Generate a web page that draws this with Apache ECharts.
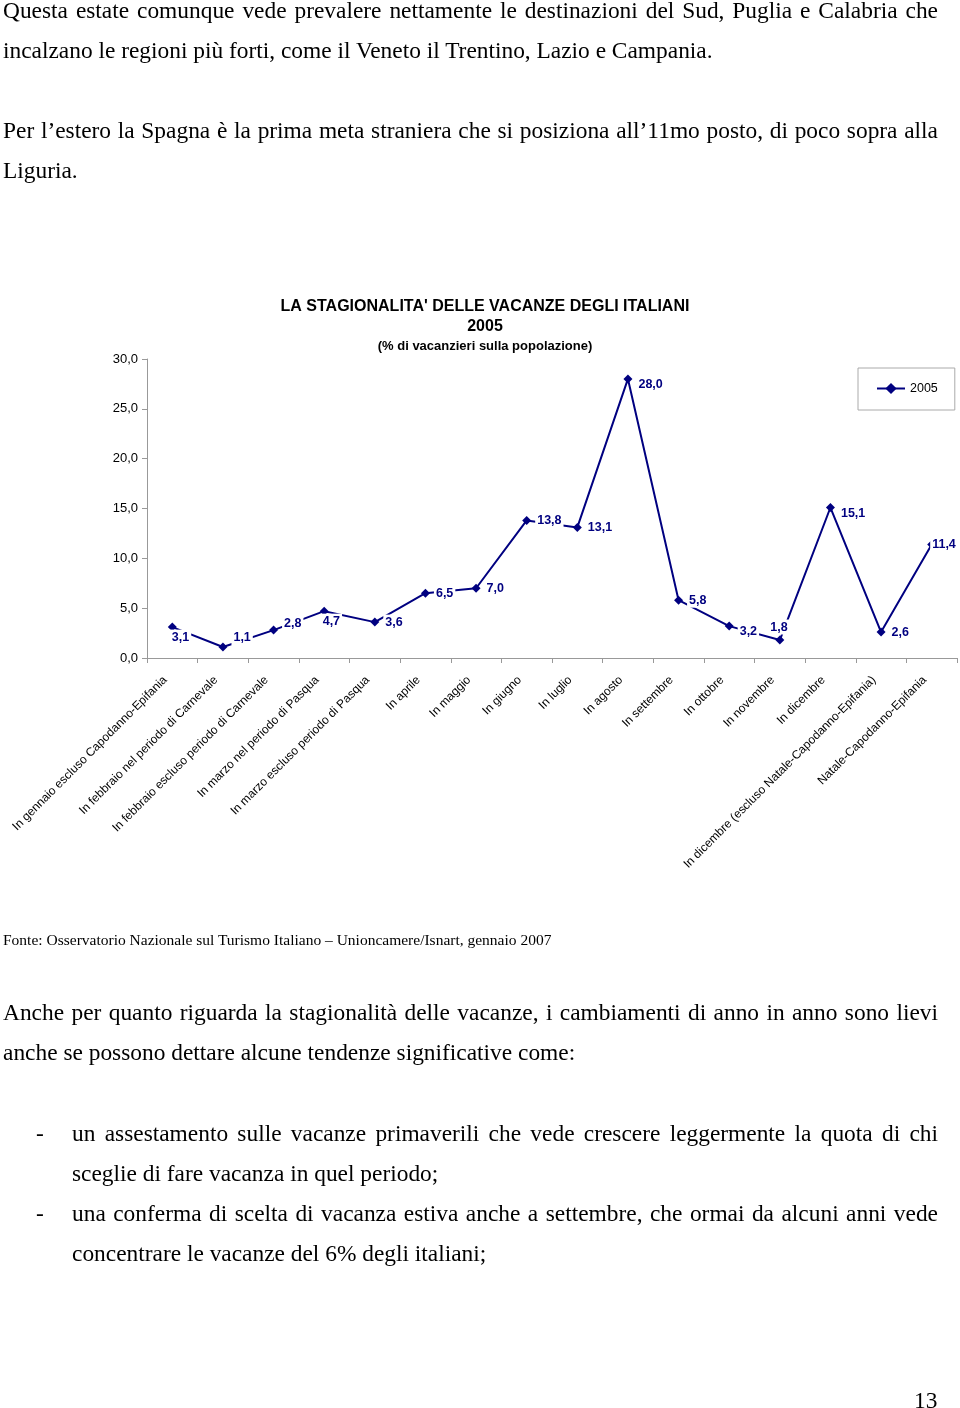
<!DOCTYPE html>
<html>
<head>
<meta charset="utf-8">
<script src="https://cdn.jsdelivr.net/npm/echarts@6/dist/echarts.min.js"></script>
<style>
  html, body { margin: 0; padding: 0; background: #fff; }
  #page { position: relative; width: 960px; height: 1408px; overflow: hidden; }
  #chart { position: absolute; left: 0; top: 0; width: 960px; height: 1408px; }
  .ln { position: absolute; font-family: "Liberation Serif", "Times New Roman", serif; font-size: 23.4px; line-height: 26px; color: #000; white-space: nowrap; }
  .j { text-align: justify; text-align-last: justify; white-space: normal; }
</style>
</head>
<body>
<div id="page">
  <div id="chart"></div>
  <div class="ln j" style="left:3px; top:-3px; width:935px;">Questa estate comunque vede prevalere nettamente le destinazioni del Sud, Puglia e Calabria che</div>
  <div class="ln" style="left:3px; top:37px;">incalzano le regioni più forti, come il Veneto il Trentino, Lazio e Campania.</div>
  <div class="ln j" style="left:3px; top:117px; width:935px;">Per l’estero la Spagna è la prima meta straniera che si posiziona all’11mo posto, di poco sopra alla</div>
  <div class="ln" style="left:3px; top:157px;">Liguria.</div>
  <div class="ln" style="left:3px; top:930px; font-size:15.5px; line-height:20px;">Fonte: Osservatorio Nazionale sul Turismo Italiano – Unioncamere/Isnart, gennaio 2007</div>
  <div class="ln j" style="left:3px; top:999px; width:935px;">Anche per quanto riguarda la stagionalità delle vacanze, i cambiamenti di anno in anno sono lievi</div>
  <div class="ln" style="left:3px; top:1039px;">anche se possono dettare alcune tendenze significative come:</div>
  <div class="ln" style="left:36px; top:1120px;">-</div>
  <div class="ln j" style="left:72px; top:1120px; width:866px;">un assestamento sulle vacanze primaverili che vede crescere leggermente la quota di chi</div>
  <div class="ln" style="left:72px; top:1160px;">sceglie di fare vacanza in quel periodo;</div>
  <div class="ln" style="left:36px; top:1200px;">-</div>
  <div class="ln j" style="left:72px; top:1200px; width:866px;">una conferma di scelta di vacanza estiva anche a settembre, che ormai da alcuni anni vede</div>
  <div class="ln" style="left:72px; top:1240px;">concentrare le vacanze del 6% degli italiani;</div>
  <div class="ln" style="left:914px; top:1387px;">13</div>
</div>
<script>
const categories = [
  "In gennaio escluso Capodanno-Epifania",
  "In febbraio nel periodo di Carnevale",
  "In febbraio escluso periodo di Carnevale",
  "In marzo nel periodo di Pasqua",
  "In marzo escluso periodo di Pasqua",
  "In aprile",
  "In maggio",
  "In giugno",
  "In luglio",
  "In agosto",
  "In settembre",
  "In ottobre",
  "In novembre",
  "In dicembre",
  "In dicembre (escluso Natale-Capodanno-Epifania)",
  "Natale-Capodanno-Epifania"
];
const values2005 = [3.1, 1.1, 2.8, 4.7, 3.6, 6.5, 7.0, 13.8, 13.1, 28.0, 5.8, 3.2, 1.8, 15.1, 2.6, 11.4];
const seriesName = "2005";
const titleMain = "LA STAGIONALITA' DELLE VACANZE DEGLI ITALIANI";
const titleYear = "2005";
const titleSub = "(% di vacanzieri sulla popolazione)";

// label placement tweaks (style only), by category index
const labelNudge = { 0: [-11, 10], 1: [0, -9], 2: [0, -7], 3: [-12, 10], 9: [0, 6], 11: [0, 5], 12: [-20, -13], 13: [0, 6], 15: [-10, 0] };

const fmt = v => v.toFixed(1).replace('.', ',');
const navy = '#000080';
const sans = 'Arial, Liberation Sans, sans-serif';

const chart = echarts.init(document.getElementById('chart'), null, { renderer: 'canvas' });
chart.setOption({
  animation: false,
  backgroundColor: 'transparent',
  title: [
    { text: titleMain, left: 485, top: 299, textAlign: 'center', padding: 0,
      textStyle: { fontFamily: sans, fontSize: 16, fontWeight: 'bold', color: '#000' } },
    { text: titleYear, left: 485, top: 319, textAlign: 'center', padding: 0,
      textStyle: { fontFamily: sans, fontSize: 16, fontWeight: 'bold', color: '#000' } },
    { text: titleSub, left: 485, top: 340, textAlign: 'center', padding: 0,
      textStyle: { fontFamily: sans, fontSize: 13, fontWeight: 'bold', color: '#000' } }
  ],
  legend: {
    left: 858, top: 368,
    padding: [14, 17, 15, 18],
    borderColor: '#aaa', borderWidth: 1,
    itemWidth: 28, itemHeight: 14, itemGap: 5,
    textStyle: { fontFamily: sans, fontSize: 12.5, color: '#000' },
    data: [seriesName]
  },
  grid: { left: 147, right: 3, top: 359, bottom: 750, containLabel: false },
  xAxis: {
    type: 'category',
    data: categories,
    boundaryGap: true,
    axisLine: { lineStyle: { color: '#999', width: 1 } },
    axisTick: { show: true, length: 5, lineStyle: { color: '#999' } },
    axisLabel: { interval: 0, rotate: 45, margin: 13, padding: [0, 10, 0, 0],
      fontFamily: sans, fontSize: 12, color: '#000' },
    splitLine: { show: false }
  },
  yAxis: {
    type: 'value', min: 0, max: 30, interval: 5,
    axisLine: { show: true, lineStyle: { color: '#999', width: 1 } },
    axisTick: { show: true, length: 5, lineStyle: { color: '#999' } },
    axisLabel: { formatter: v => fmt(v), margin: 9,
      fontFamily: sans, fontSize: 13, color: '#000' },
    splitLine: { show: false }
  },
  series: [{
    name: seriesName,
    type: 'line',
    data: values2005,
    symbol: 'diamond',
    symbolSize: 9,
    lineStyle: { color: navy, width: 2 },
    itemStyle: { color: navy },
    labelLayout: function (p) {
      const n = labelNudge[p.dataIndex];
      return n ? { dx: n[0], dy: n[1], hideOverlap: false } : { hideOverlap: false };
    },
    label: {
      show: true, position: 'right', distance: 4,
      formatter: p => fmt(p.value),
      fontFamily: sans, fontSize: 12.5, fontWeight: 'bold',
      color: navy, backgroundColor: '#fff', padding: [1, 2]
    }
  }]
});
</script>
</body>
</html>
